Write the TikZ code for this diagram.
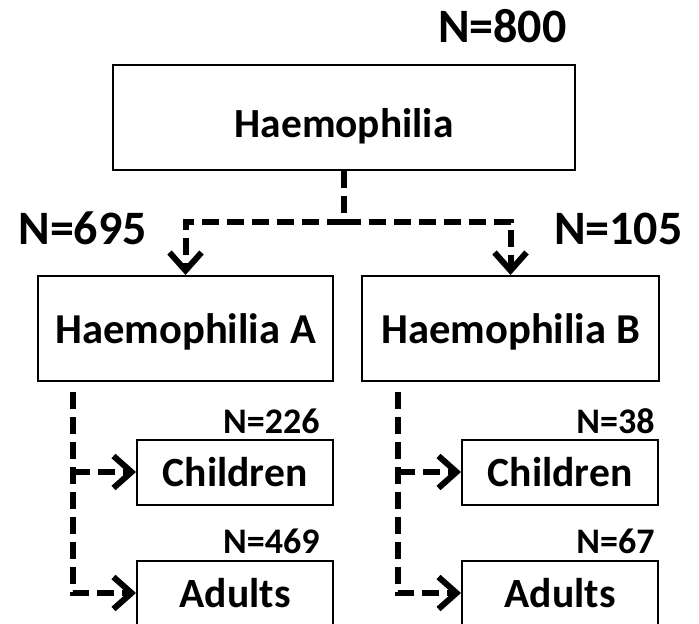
\documentclass[tikz,border=0pt]{standalone}
\usepackage{fontspec}
\setmainfont{Carlito}
\usetikzlibrary{arrows.meta}

\begin{document}
\begin{tikzpicture}
    [   x=0.5pt,y=-0.5pt,
        >={Straight Barb[length=9pt,width=16pt]},
        gbox/.style 2 args={draw=black,line width=1pt,minimum width=#1,minimum height=#2,inner sep=0pt},
        toptext/.style={font=\bfseries\fontsize{20.7}{24}\selectfont,text height=20pt,text depth=0pt},
        bigtext/.style={font=\bfseries\fontsize{21.3}{24}\selectfont,text height=15pt,text depth=0pt},
        subtext/.style={font=\bfseries\fontsize{20.8}{24}\selectfont,text height=14pt,text depth=0pt},
        bigcount/.style={font=\bfseries\fontsize{24}{28}\selectfont,inner sep=0pt},
        subcount/.style={font=\bfseries\fontsize{18}{20}\selectfont,inner sep=0pt,anchor=base east},
        link/.style={line width=3pt,dash pattern=on 8.5pt off 4pt},
    ]
        \useasboundingbox (0,0) rectangle (699,624);
        \node[gbox={231pt}{52.5pt},toptext] (top) at (344,117.5) {Haemophilia};
        \node[gbox={147.5pt}{52.5pt},bigtext] (hA) at (185.5,328.5) {Haemophilia A};
        \node[gbox={148.5pt}{52.5pt},bigtext] (hB) at (510.5,328.5) {Haemophilia B};
        \node[bigcount,anchor=base east] (n800) at (567,43) {N=800};
        \node[bigcount,anchor=base west] (n695) at (18,245) {N=695};
        \node[bigcount,anchor=base east] (n105) at (683,245) {N=105};
        \coordinate (split) at (344,222);
        \draw[link] (top.south) -- (split);
        \draw[link,->] (split) -| (hA.north);
        \draw[link,->] (split) -| (hB.north);
        \foreach \g/\dx/\nx/\nc/\na in {A/0/320/226/469,B/325/655/38/67}
        {   \node[gbox={98pt}{32.5pt},subtext] (c\g) at (235+\dx,472) {Children};
            \node[gbox={98pt}{32.5pt},subtext] (a\g) at (235+\dx,593) {Adults};
            \node[subcount] (nc\g) at (\nx,433) {N=\nc};
            \node[subcount] (na\g) at (\nx,553) {N=\na};
            \coordinate (trunk\g) at (73+\dx,392);
            \draw[link,->] (trunk\g) |- (a\g.west);
            \draw[link,->] (trunk\g |- c\g.west) -- (c\g.west);
        }
  \end{tikzpicture}
\end{document}
